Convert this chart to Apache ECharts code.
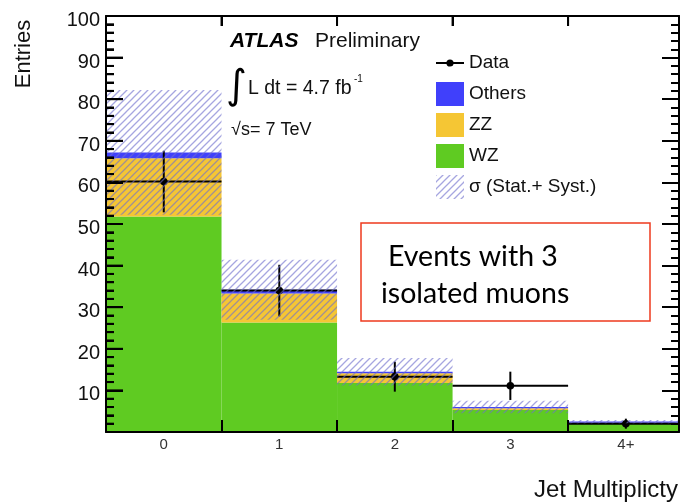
<!DOCTYPE html>
<html>
<head>
<meta charset="utf-8">
<script src="https://cdn.jsdelivr.net/npm/echarts@6/dist/echarts.min.js"></script>
<style>
  html, body { margin: 0; padding: 0; background: #fff; }
  #chart { width: 682px; height: 503px; }
</style>
</head>
<body>
<div id="chart"></div>
<script>
// Jet multiplicity bins and their printed labels
const jetBins = [0, 1, 2, 3, 4];
const categories = ['0', '1', '2', '3', '4+'];

// Expected yields per bin (stacked: WZ, then ZZ, then Others)
const wzValues = [51.8, 26.3, 11.8, 5.3, 2.0];
const zzValues = [14.0, 7.0, 2.3, 0.4, 0.2];
const otherValues = [1.4, 0.9, 0.4, 0.3, 0.3];
// Total stat.+syst. uncertainty on the expectation
const systErrors = [15.0, 7.2, 3.3, 1.5, 0.4];

// Observed data and its errors
const dataValues = [60.2, 34.0, 13.3, 11.1, 2.0];
const dataErrors = [7.4, 6.2, 3.6, 3.4, 1.2];

// Axis ranges
const yMin = 0, yMax = 100, yStep = 10, yMinorStep = 2;
const xMin = -0.5, xMax = 4.46;

const FONT = 'Liberation Sans';

// Build stacked [bin, low, high] triples
const wzRects = jetBins.map((b, i) => [b, 0, wzValues[i]]);
const zzRects = jetBins.map((b, i) => [b, wzValues[i], wzValues[i] + zzValues[i]]);
const otherRects = jetBins.map((b, i) => {
  const base = wzValues[i] + zzValues[i];
  return [b, base, base + otherValues[i]];
});
const bandRects = jetBins.map((b, i) => {
  const tot = wzValues[i] + zzValues[i] + otherValues[i];
  return [b, tot - systErrors[i], tot + systErrors[i]];
});
const dataPoints = jetBins.map((b, i) => [b, dataValues[i], dataErrors[i]]);
const binEdges = jetBins.slice(0, -1).map(b => b + 0.5);

// Ruler marks along the left frame edge and bin edges along the top frame edge
// kind: 0 = major y tick, 1 = minor y tick, 2 = top bin-edge tick
const rulerMarks = [];
for (let v = yMin; v <= yMax; v += yMinorStep) {
  rulerMarks.push([xMin, v, v % yStep === 0 ? 0 : 1]);
}
binEdges.forEach(e => rulerMarks.push([e, yMax, 2]));

// Diagonal hatch used for the uncertainty band
function makeHatch() {
  const s = 7;
  const c = document.createElement('canvas');
  c.width = s; c.height = s;
  const ctx = c.getContext('2d');
  ctx.strokeStyle = 'rgba(112,112,205,0.62)';
  ctx.lineWidth = 1.3;
  ctx.beginPath();
  ctx.moveTo(0, s); ctx.lineTo(s, 0);
  ctx.moveTo(-1, 1); ctx.lineTo(1, -1);
  ctx.moveTo(s - 1, s + 1); ctx.lineTo(s + 1, s - 1);
  ctx.stroke();
  return { image: c, repeat: 'repeat' };
}
const hatch = makeHatch();

function binRect(params, api) {
  const x = api.value(0);
  const a = api.coord([x - 0.5, api.value(1)]);
  const b = api.coord([x + 0.5, api.value(2)]);
  const cs = params.coordSys;
  const shape = echarts.graphic.clipRectByRect(
    { x: a[0], y: b[1], width: b[0] - a[0], height: a[1] - b[1] },
    { x: cs.x, y: cs.y, width: cs.width, height: cs.height }
  );
  return shape && { type: 'rect', shape: shape, style: api.style() };
}

function dataMark(params, api) {
  const x = api.value(0), v = api.value(1), e = api.value(2);
  const cs = params.coordSys;
  const l = api.coord([x - 0.5, v]);
  const r = api.coord([x + 0.5, v]);
  const lo = api.coord([x, v - e]);
  const hi = api.coord([x, v + e]);
  const right = Math.min(r[0], cs.x + cs.width);
  const st = { stroke: '#000', lineWidth: 2 };
  return {
    type: 'group',
    children: [
      { type: 'line', shape: { x1: l[0], y1: l[1], x2: right, y2: r[1] }, style: st },
      { type: 'line', shape: { x1: lo[0], y1: lo[1], x2: hi[0], y2: hi[1] }, style: st },
      { type: 'circle', shape: { cx: lo[0], cy: l[1], r: 3.8 }, style: { fill: '#000' } }
    ]
  };
}

function rulerMark(params, api) {
  const p = api.coord([api.value(0), api.value(1)]);
  const kind = api.value(2);
  const st = { stroke: '#000', lineWidth: 2 };
  if (kind === 2) {
    return { type: 'line', shape: { x1: p[0], y1: p[1], x2: p[0], y2: p[1] + 10 }, style: st };
  }
  const len = kind === 0 ? 17 : 8;
  return { type: 'line', shape: { x1: p[0], y1: p[1], x2: p[0] + len, y2: p[1] }, style: st };
}

const dataIcon = 'path://M0,0L0.01,0L0,0.01Z M28,24L27.99,24L28,23.99Z M0,11H28V13H0Z M14,8.4A3.6,3.6,0,1,1,13.99,8.4Z';

const axisLineStyle = { color: '#000', width: 2 };
const gridRect = { left: 106, right: 3, top: 16, bottom: 71 };

// Frame axis carrying the ruler marks of the y scale
function yFrameAxis(position) {
  return {
    type: 'value', gridIndex: 0, position: position, min: yMin, max: yMax, interval: yStep, z: 10,
    axisLine: { show: true, onZero: false, lineStyle: axisLineStyle },
    axisTick: { show: true, inside: true, length: 17, lineStyle: axisLineStyle },
    minorTick: { show: true, splitNumber: 5, length: 8, lineStyle: axisLineStyle },
    axisLabel: { show: false },
    splitLine: { show: false }
  };
}

// Frame axis carrying the bin-edge marks of the x scale
function xFrameAxis(position, tickLen, withLabels) {
  return {
    type: 'value', gridIndex: 0, position: position, min: xMin, max: xMax, z: 10,
    axisLine: { show: true, onZero: false, lineStyle: axisLineStyle },
    axisTick: { show: true, inside: true, length: tickLen, customValues: binEdges, lineStyle: axisLineStyle },
    axisLabel: withLabels ? {
      customValues: jetBins,
      formatter: v => categories[jetBins.indexOf(Math.round(v))],
      fontFamily: FONT, fontSize: 15, color: '#333', margin: 5
    } : { show: false },
    splitLine: { show: false }
  };
}

const chart = echarts.init(document.getElementById('chart'), null, { renderer: 'canvas' });
chart.setOption({
  animation: false,
  backgroundColor: '#fff',
  grid: [Object.assign({}, gridRect), Object.assign({}, gridRect)],
  xAxis: [
    xFrameAxis('bottom', 12, true),
    xFrameAxis('top', 10, false),
    { type: 'value', gridIndex: 1, min: xMin, max: xMax, show: false }
  ],
  yAxis: [
    yFrameAxis('left'),
    yFrameAxis('right'),
    {
      // value labels of the y scale
      type: 'value', gridIndex: 1, position: 'left', min: yMin, max: yMax, interval: yStep,
      axisLine: { show: false },
      axisTick: { show: false },
      axisLabel: {
        formatter: v => (v === 0 ? '' : String(v)),
        fontFamily: FONT, fontSize: 20, color: '#111', margin: 6,
        verticalAlign: 'top', lineHeight: 9
      },
      splitLine: { show: false }
    }
  ],
  legend: {
    orient: 'vertical', left: 431, top: 46,
    itemWidth: 28, itemHeight: 24, itemGap: 7,
    selectedMode: false,
    textStyle: { fontFamily: FONT, fontSize: 19, color: '#111' },
    data: [
      { name: 'Data', icon: dataIcon },
      { name: 'Others', icon: 'rect' },
      { name: 'ZZ', icon: 'rect' },
      { name: 'WZ', icon: 'rect' },
      { name: 'σ (Stat.+ Syst.)', icon: 'rect' }
    ]
  },
  series: [
    { name: 'WZ', type: 'custom', renderItem: binRect, data: wzRects, z: 2,
      xAxisIndex: 2, yAxisIndex: 2,
      encode: { x: 0, y: [1, 2] }, itemStyle: { color: '#5fcb22' } },
    { name: 'ZZ', type: 'custom', renderItem: binRect, data: zzRects, z: 2,
      xAxisIndex: 2, yAxisIndex: 2,
      encode: { x: 0, y: [1, 2] }, itemStyle: { color: '#f5c634' } },
    { name: 'Others', type: 'custom', renderItem: binRect, data: otherRects, z: 2,
      xAxisIndex: 2, yAxisIndex: 2,
      encode: { x: 0, y: [1, 2] }, itemStyle: { color: '#4040fb' } },
    { name: 'Data', type: 'custom', renderItem: dataMark, data: dataPoints, z: 3,
      xAxisIndex: 2, yAxisIndex: 2,
      encode: { x: 0, y: 1 }, itemStyle: { color: '#000' } },
    { name: 'σ (Stat.+ Syst.)', type: 'custom', renderItem: binRect, data: bandRects, z: 4,
      xAxisIndex: 2, yAxisIndex: 2,
      encode: { x: 0, y: [1, 2] }, itemStyle: { color: hatch } },
    { name: 'frame ruler', type: 'custom', renderItem: rulerMark, data: rulerMarks, z: 12,
      xAxisIndex: 2, yAxisIndex: 2, silent: true,
      encode: { x: 0, y: 1 } }
  ],
  graphic: [
    { type: 'text', x: 24, y: 54, rotation: Math.PI / 2,
      style: { text: 'Entries', fontFamily: FONT, fontSize: 22, fill: '#111', align: 'center', verticalAlign: 'middle' } },
    { type: 'text', x: 678, y: 490,
      style: { text: 'Jet Multiplicty', fontFamily: FONT, fontSize: 24, fill: '#111', align: 'right', verticalAlign: 'middle' } },
    { type: 'text', x: 230, y: 41,
      style: { text: 'ATLAS', fontFamily: FONT, fontSize: 21, fontWeight: 'bold', fontStyle: 'italic', fill: '#000', verticalAlign: 'middle' } },
    { type: 'text', x: 315, y: 41,
      style: { text: 'Preliminary', fontFamily: FONT, fontSize: 21, fill: '#111', verticalAlign: 'middle' } },
    { type: 'text', x: 226, y: 88,
      style: { text: '∫', fontFamily: 'DejaVu Sans', fontSize: 40, fill: '#000', verticalAlign: 'middle' } },
    { type: 'text', x: 248, y: 89,
      style: { text: 'L dt = 4.7 fb', fontFamily: FONT, fontSize: 19.5, fill: '#111', verticalAlign: 'middle' } },
    { type: 'text', x: 354, y: 79,
      style: { text: '-1', fontFamily: FONT, fontSize: 10, fill: '#111', verticalAlign: 'middle' } },
    { type: 'text', x: 231, y: 130,
      style: { text: '√s= 7 TeV', fontFamily: FONT, fontSize: 18, fill: '#111', verticalAlign: 'middle' } },
    { type: 'rect', z: 20, shape: { x: 361, y: 223, width: 289, height: 98 },
      style: { fill: '#fff', stroke: '#ee3a1e', lineWidth: 1.5 } },
    { type: 'text', z: 21, x: 388, y: 257,
      style: { text: 'Events with 3', fontFamily: 'Lato', fontSize: 28.5, fill: '#000', verticalAlign: 'middle' } },
    { type: 'text', z: 21, x: 381, y: 294,
      style: { text: 'isolated muons', fontFamily: 'Lato', fontSize: 28.5, fill: '#000', verticalAlign: 'middle' } }
  ]
});
</script>
</body>
</html>
